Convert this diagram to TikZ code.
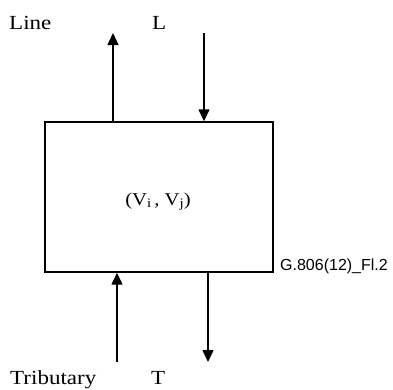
\documentclass[tikz,border=0pt]{standalone}
\usepackage{fontspec}
\setmainfont[FakeStretch=1.15]{Liberation Serif}
\newfontfamily\arialfont{Liberation Sans}
\usetikzlibrary{arrows.meta}
\newcommand{\mysub}[1]{\raisebox{-0.3ex}{\fontsize{13}{14}\selectfont #1}}
\begin{document}
\begin{tikzpicture}[x=1pt,y=-1pt,
  conn/.style={line width=1.4pt,-{Triangle[length=12pt,width=11pt]}},
  lbl/.style={inner sep=0pt,anchor=base west,font=\fontsize{20}{22}\selectfont},
  boxst/.style={draw,line width=1.4pt,minimum width=228pt,minimum height=150pt,inner sep=0pt}]
\useasboundingbox (0,0) rectangle (393,389);
\node[boxst] (box) at (159,197) {};
\node[inner sep=0pt,anchor=base,font=\fontsize{18}{20}\selectfont] (vij) at (158,205) {(V\mysub{i}\,, V\mysub{j})};
\coordinate (lo) at (113,33);
\coordinate (li) at (204,33);
\coordinate (ti) at (117,362);
\coordinate (to) at (208,362);
\draw[conn] (box.north -| lo) -- (lo);
\draw[conn] (li) -- (box.north -| li);
\draw[conn] (ti) -- (box.south -| ti);
\draw[conn] (box.south -| to) -- (to);
\node[lbl] (line) at (9,29) {Line};
\node[lbl] (L) at (152,29) {L};
\node[lbl] (trib) at (10,384) {Tributary};
\node[lbl] (T) at (151,384) {T};
\node[inner sep=0pt,anchor=base west,font=\arialfont\fontsize{16}{18}\selectfont] (fig) at (280,270) {G.806(12)\_Fl.2};
\end{tikzpicture}
\end{document}
